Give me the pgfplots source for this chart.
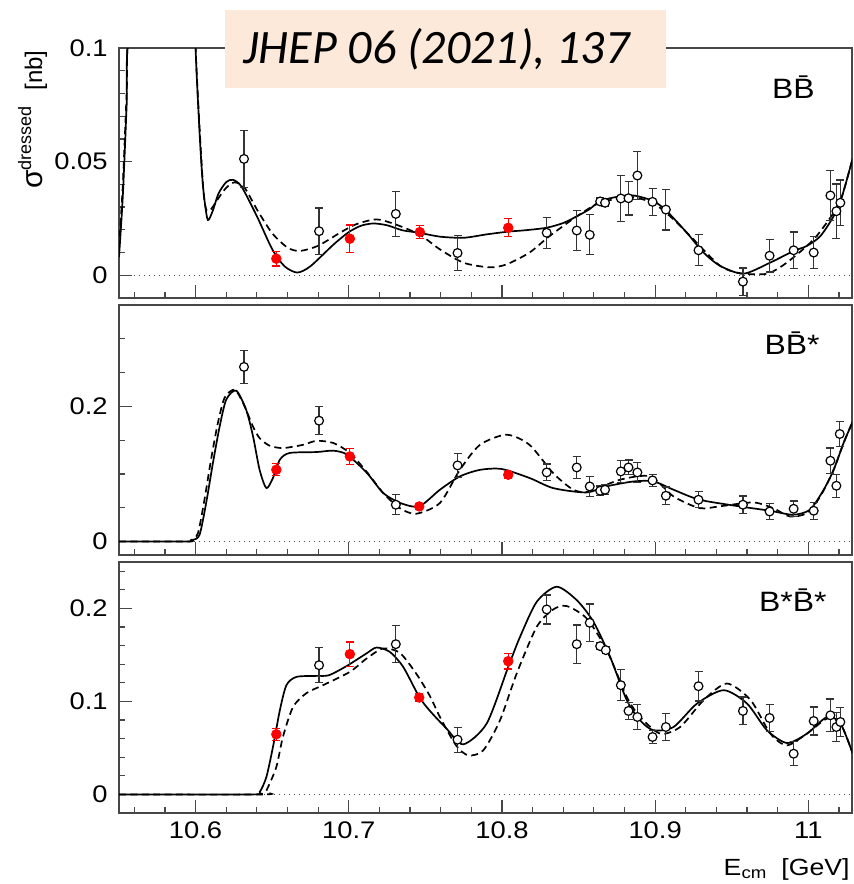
\documentclass[border=0pt]{standalone}
\usepackage{fontspec}
\setmainfont{Liberation Sans}
\newfontfamily\rootfont{Liberation Sans}[FakeStretch=1.14]
\newfontfamily\calfont{Carlito}
\usepackage{pgfplots}
\pgfplotsset{compat=1.18}
\definecolor{frame}{gray}{0.28}
\definecolor{peach}{RGB}{252,233,218}
\pgfplotsset{
  panel/.style={
    scale only axis, width=366.5pt,
    xmin=10.55, xmax=11.0285,
    axis line style={draw=frame, line width=0.9pt},
    major tick style={draw=frame, line width=0.6pt},
    minor tick style={draw=frame, line width=0.6pt},
    tick align=inside,
    xtick pos=left, ytick pos=left,
    major tick length=6.5pt, minor tick length=3.2pt,
    xtick={10.6,10.7,10.8,10.9,11},
    minor xtick={10.56,10.58,10.62,10.64,10.66,10.68,10.72,10.74,10.76,10.78,10.82,10.84,10.86,10.88,10.92,10.94,10.96,10.98,11.02},
    scaled x ticks=false, scaled y ticks=false,
    xticklabels={},
    yticklabel={\pgfmathprintnumber[fixed,precision=2,assume math mode=true]{\tick}},
    yticklabel style={font=\rootfont\fontsize{12}{14}\selectfont, inner sep=0pt, xshift=-5.5pt},
    xticklabel style={font=\rootfont\fontsize{12}{14}\selectfont, inner sep=0pt, yshift=-4.3pt},
  },
  zero/.style={black!70, line width=0.45pt, dash pattern=on 0.6pt off 1.9pt},
  solidc/.style={black, line width=0.85pt, smooth, tension=0.45, line join=round},
  dashc/.style={black, line width=0.85pt, smooth, tension=0.45, dash pattern=on 3.5pt off 2.2pt},
  openpts/.style={only marks, mark=*, mark size=2.2pt, black,
    mark options={fill=white, draw=black, line width=0.6pt},
    error bars/.cd, y dir=both, y explicit,
    error bar style={line width=0.6pt, draw=black!80},
    error mark options={rotate=90, draw=black!80, line width=0.6pt, mark size=2pt}},
  redpts/.style={only marks, mark=*, mark size=2.4pt, red,
    mark options={fill=red, draw=red},
    error bars/.cd, y dir=both, y explicit,
    error bar style={line width=0.6pt, draw=red},
    error mark options={rotate=90, draw=red, line width=0.6pt, mark size=2pt}},
}
\begin{document}
\begin{tikzpicture}
\useasboundingbox (0,0) rectangle (426.5pt,-442pt);
% ---------------- Panel 1: B Bbar
\begin{axis}[panel, at={(59.5pt,-149pt)}, anchor=south west, height=125pt,
  ymin=-0.01, ymax=0.1, ytick={0,0.05,0.1},
  minor ytick={0.01,0.02,0.03,0.04,0.06,0.07,0.08,0.09}]
\addplot[zero] coordinates {(10.55,0) (11.03,0)};
\addplot[dashc] coordinates {
(10.5500,0.012) (10.5525,0.040) (10.5550,0.080) (10.5575,0.115) (10.5800,0.200) (10.5980,0.150)
(10.6000,0.100) (10.6026,0.065) (10.6050,0.038) (10.6070,0.0287) (10.6100,0.0290) (10.6150,0.0340)
(10.6200,0.0385) (10.6255,0.0409) (10.6320,0.0385) (10.6400,0.0290) (10.6500,0.0185) (10.6600,0.0122)
(10.6680,0.0107) (10.6800,0.0130) (10.6950,0.0190) (10.7050,0.0225) (10.7180,0.0246) (10.7300,0.0225)
(10.7460,0.0180) (10.7595,0.0114) (10.7750,0.0055) (10.7920,0.0035) (10.8030,0.0048) (10.8180,0.0100)
(10.8310,0.0172) (10.8490,0.0260) (10.8640,0.0319) (10.8840,0.0344) (10.8990,0.0316) (10.9120,0.0246)
(10.9250,0.0158) (10.9425,0.0041) (10.9556,0.0009) (10.9730,0.0007) (10.9860,0.0056) (11.0035,0.0158)
(11.0165,0.0275) (11.0220,0.0348) (11.0290,0.0516)};
\addplot[solidc] coordinates {
(10.5500,0.008) (10.5525,0.035) (10.5550,0.075) (10.5570,0.110) (10.5800,0.200) (10.5980,0.150)
(10.6000,0.100) (10.6026,0.0627) (10.6045,0.0420) (10.6060,0.0320) (10.6080,0.0243) (10.6110,0.0280)
(10.6150,0.0360) (10.6200,0.0410) (10.6244,0.0420) (10.6300,0.0390) (10.6400,0.0260) (10.6500,0.0115)
(10.6580,0.0040) (10.6664,0.0012) (10.6750,0.0040) (10.6900,0.0135) (10.7000,0.0190) (10.7080,0.0218)
(10.7160,0.0228) (10.7250,0.0220) (10.7350,0.0198) (10.7460,0.0187) (10.7595,0.0170) (10.7750,0.0165)
(10.7900,0.0180) (10.8040,0.0192) (10.8150,0.0198) (10.8290,0.0209) (10.8400,0.0230) (10.8490,0.0260)
(10.8570,0.0290) (10.8640,0.0326) (10.8750,0.0345) (10.8860,0.0351) (10.8990,0.0326) (10.9076,0.0282)
(10.9207,0.0187) (10.9316,0.0100) (10.9425,0.0041) (10.9577,0.0007) (10.9752,0.0056) (10.9904,0.0107)
(10.9990,0.0129) (11.0078,0.0172) (11.0165,0.0260) (11.0220,0.0348) (11.0290,0.0516)};
\addplot[redpts] table[x=x, y=y, y error=e] {
x y e
10.6527 0.0073 0.0032
10.7007 0.0161 0.0060
10.7464 0.0190 0.0028
10.8041 0.0209 0.0040
};
\addplot[openpts] table[x=x, y=y, y error=e] {
x y e
10.6316 0.0512 0.0125
10.6806 0.0194 0.0102
10.7307 0.0270 0.0100
10.7710 0.0098 0.0077
10.8292 0.0187 0.0068
10.8488 0.0197 0.0089
10.8573 0.0178 0.0088
10.8641 0.0325 0.0015
10.8673 0.0319 0.0015
10.8776 0.0338 0.0100
10.8826 0.0339 0.0074
10.8884 0.0439 0.0105
10.8983 0.0323 0.0060
10.9070 0.0289 0.0090
10.9283 0.0110 0.0068
10.9573 -0.0028 0.0060
10.9747 0.0086 0.0072
10.9904 0.0110 0.0080
11.0035 0.0100 0.0070
11.0144 0.0351 0.0110
11.0183 0.0282 0.0120
11.0209 0.0319 0.0100
};
\end{axis}
% ---------------- Panel 2: B Bbar*
\begin{axis}[panel, at={(59.5pt,-277.5pt)}, anchor=south west, height=125pt,
  ymin=-0.02, ymax=0.35, ytick={0,0.2},
  minor ytick={0.05,0.1,0.15,0.25,0.3}]
\addplot[zero] coordinates {(10.55,0) (11.03,0)};
\addplot[dashc] coordinates {
(10.5500,0) (10.5940,0) (10.5970,0.002) (10.6015,0.012) (10.6058,0.062) (10.6100,0.120)
(10.6145,0.175) (10.6190,0.213) (10.6255,0.2247) (10.6310,0.205) (10.6375,0.170) (10.6418,0.153)
(10.6483,0.1418) (10.6570,0.1383) (10.6700,0.1430) (10.6790,0.1490) (10.6900,0.1457) (10.7007,0.1310)
(10.7115,0.1037) (10.7225,0.0717) (10.7333,0.0494) (10.7439,0.0410) (10.7595,0.0570) (10.7725,0.1060)
(10.7856,0.1430) (10.8030,0.1580) (10.8180,0.1430) (10.8335,0.1010) (10.8466,0.0766) (10.8570,0.0740)
(10.8770,0.0914) (10.8967,0.0963) (10.9120,0.0667) (10.9290,0.0494) (10.9420,0.0520) (10.9640,0.0578)
(10.9770,0.0494) (10.9880,0.0370) (10.9990,0.0420) (11.0078,0.0667) (11.0165,0.1060) (11.0230,0.1457)
(11.0290,0.1778)};
\addplot[solidc] coordinates {
(10.5500,0) (10.5950,0) (10.5980,0.002) (10.6026,0.010) (10.6069,0.057) (10.6113,0.116)
(10.6157,0.170) (10.6200,0.210) (10.6265,0.2233) (10.6330,0.195) (10.6375,0.1556) (10.6418,0.106)
(10.6462,0.079) (10.6505,0.094) (10.6550,0.121) (10.6614,0.131) (10.6790,0.1324) (10.6900,0.1344)
(10.6990,0.1284) (10.7120,0.1010) (10.7225,0.0717) (10.7336,0.0570) (10.7460,0.0520) (10.7595,0.0766)
(10.7725,0.0963) (10.7856,0.1060) (10.7998,0.1073) (10.8180,0.0940) (10.8335,0.0790) (10.8550,0.0726)
(10.8680,0.0815) (10.8860,0.0889) (10.8990,0.0889) (10.9120,0.0766) (10.9290,0.0618) (10.9550,0.0520)
(10.9750,0.0455) (10.9900,0.0396) (11.0010,0.0470) (11.0100,0.0766) (11.0165,0.1060) (11.0230,0.1457)
(11.0290,0.1778)};
\addplot[redpts] table[x=x, y=y, y error=e] {
x y e
10.6527 0.1062 0.0087
10.7007 0.1259 0.0120
10.7460 0.0519 0.0040
10.8041 0.0988 0.0050
};
\addplot[openpts] table[x=x, y=y, y error=e] {
x y e
10.6316 0.2584 0.0245
10.6806 0.1788 0.0210
10.7307 0.0544 0.0150
10.7710 0.1126 0.0175
10.8292 0.1022 0.0124
10.8488 0.1096 0.0160
10.8573 0.0815 0.0150
10.8641 0.0751 0.0070
10.8673 0.0766 0.0070
10.8776 0.1037 0.0160
10.8826 0.1096 0.0110
10.8884 0.1022 0.0150
10.8983 0.0904 0.0087
10.9070 0.0677 0.0130
10.9283 0.0618 0.0120
10.9573 0.0544 0.0128
10.9747 0.0444 0.0117
10.9904 0.0484 0.0116
11.0035 0.0455 0.0124
11.0144 0.1195 0.0190
11.0183 0.0825 0.0170
11.0205 0.1591 0.0185
};
\end{axis}
% ---------------- Panel 3: B* Bbar*
\begin{axis}[panel, at={(59.5pt,-406.5pt)}, anchor=south west, height=125.5pt,
  ymin=-0.02, ymax=0.25, ytick={0,0.1,0.2},
  minor ytick={0.02,0.04,0.06,0.08,0.12,0.14,0.16,0.18,0.22,0.24},
  xticklabel={\pgfmathprintnumber[fixed,precision=1,assume math mode=true]{\tick}}]
\addplot[zero] coordinates {(10.55,0) (11.03,0)};
\addplot[dashc] coordinates {
(10.5500,0) (10.6440,0) (10.6462,0.004) (10.6527,0.0294) (10.6570,0.0618) (10.6636,0.0940)
(10.6724,0.1090) (10.6832,0.1175) (10.7007,0.1318) (10.7115,0.1460) (10.7224,0.1570) (10.7333,0.1523)
(10.7440,0.1300) (10.7529,0.1060) (10.7595,0.0833) (10.7700,0.0528) (10.7780,0.0420) (10.7878,0.0474)
(10.7987,0.0797) (10.8096,0.1300) (10.8227,0.1803) (10.8335,0.1990) (10.8423,0.2026) (10.8553,0.1893)
(10.8684,0.1552) (10.8815,0.1049) (10.8902,0.0833) (10.9033,0.0654) (10.9163,0.0725) (10.9316,0.1013)
(10.9468,0.1193) (10.9624,0.1013) (10.9752,0.0654) (10.9860,0.0528) (10.9991,0.0654) (11.0122,0.0815)
(11.0210,0.0762) (11.0290,0.0438)};
\addplot[solidc] coordinates {
(10.5500,0) (10.6375,0) (10.6418,0.0025) (10.6462,0.0187) (10.6505,0.0510) (10.6550,0.0905)
(10.6593,0.1175) (10.6658,0.1264) (10.6789,0.1275) (10.6870,0.1282) (10.6985,0.1380) (10.7115,0.1516)
(10.7181,0.1580) (10.7268,0.1533) (10.7355,0.1372) (10.7460,0.1049) (10.7529,0.0900) (10.7638,0.0708)
(10.7747,0.0539) (10.7900,0.0762) (10.8041,0.1372) (10.8118,0.1695) (10.8227,0.2072) (10.8357,0.2234)
(10.8488,0.2090) (10.8597,0.1857) (10.8706,0.1480) (10.8815,0.1013) (10.8902,0.0797) (10.8989,0.0690)
(10.9120,0.0725) (10.9273,0.0977) (10.9447,0.1121) (10.9600,0.0977) (10.9730,0.0690) (10.9861,0.0553)
(10.9991,0.0654) (11.0122,0.0833) (11.0210,0.0762) (11.0290,0.0438)};
\addplot[redpts] table[x=x, y=y, y error=e] {
x y e
10.6527 0.0647 0.0063
10.7007 0.1509 0.0130
10.7460 0.1042 0.0040
10.8041 0.1433 0.0083
};
\addplot[openpts] table[x=x, y=y, y error=e] {
x y e
10.6806 0.1390 0.0190
10.7307 0.1616 0.0200
10.7710 0.0589 0.0135
10.8292 0.1990 0.0156
10.8488 0.1616 0.0207
10.8573 0.1846 0.0203
10.8641 0.1595 0.0040
10.8678 0.1552 0.0040
10.8776 0.1175 0.0165
10.8826 0.0898 0.0095
10.8884 0.0833 0.0137
10.8983 0.0618 0.0068
10.9070 0.0725 0.0143
10.9283 0.1164 0.0160
10.9573 0.0898 0.0150
10.9747 0.0822 0.0147
10.9904 0.0438 0.0130
11.0035 0.0790 0.0150
11.0144 0.0851 0.0175
11.0183 0.0725 0.0160
11.0209 0.0779 0.0160
};
\end{axis}
% ---------------- texts
\node[anchor=base east, inner sep=0pt, font=\rootfont\fontsize{14}{16}\selectfont] at (407.5pt,-49.2pt) {B\=B};
\node[anchor=base east, inner sep=0pt, font=\rootfont\fontsize{14}{16}\selectfont] at (410pt,-177.2pt) {B\=B*};
\node[anchor=base east, inner sep=0pt, font=\rootfont\fontsize{14}{16}\selectfont] at (413.5pt,-305.8pt) {B*\=B*};
\node[anchor=base east, inner sep=0pt, font=\rootfont\fontsize{11.7}{14}\selectfont] at (425pt,-437.5pt) {E\textsubscript{cm}\hspace{7pt}[GeV]};
\node[rotate=90, anchor=base east, inner sep=0pt] at (21pt,-25pt)
  {{\fontsize{15}{17}\selectfont σ}\raisebox{5.5pt}{\fontsize{9}{10}\selectfont dressed}\hspace{8pt}{\fontsize{12}{14}\selectfont [nb]}};
\fill[peach] (112.5pt,-5pt) rectangle (333pt,-43.85pt);
\node[anchor=base west, inner sep=0pt, font=\calfont\itshape\fontsize{24}{28}\selectfont] at (121.5pt,-31.65pt) {JHEP 06 (2021), 137};
\end{tikzpicture}
\end{document}
